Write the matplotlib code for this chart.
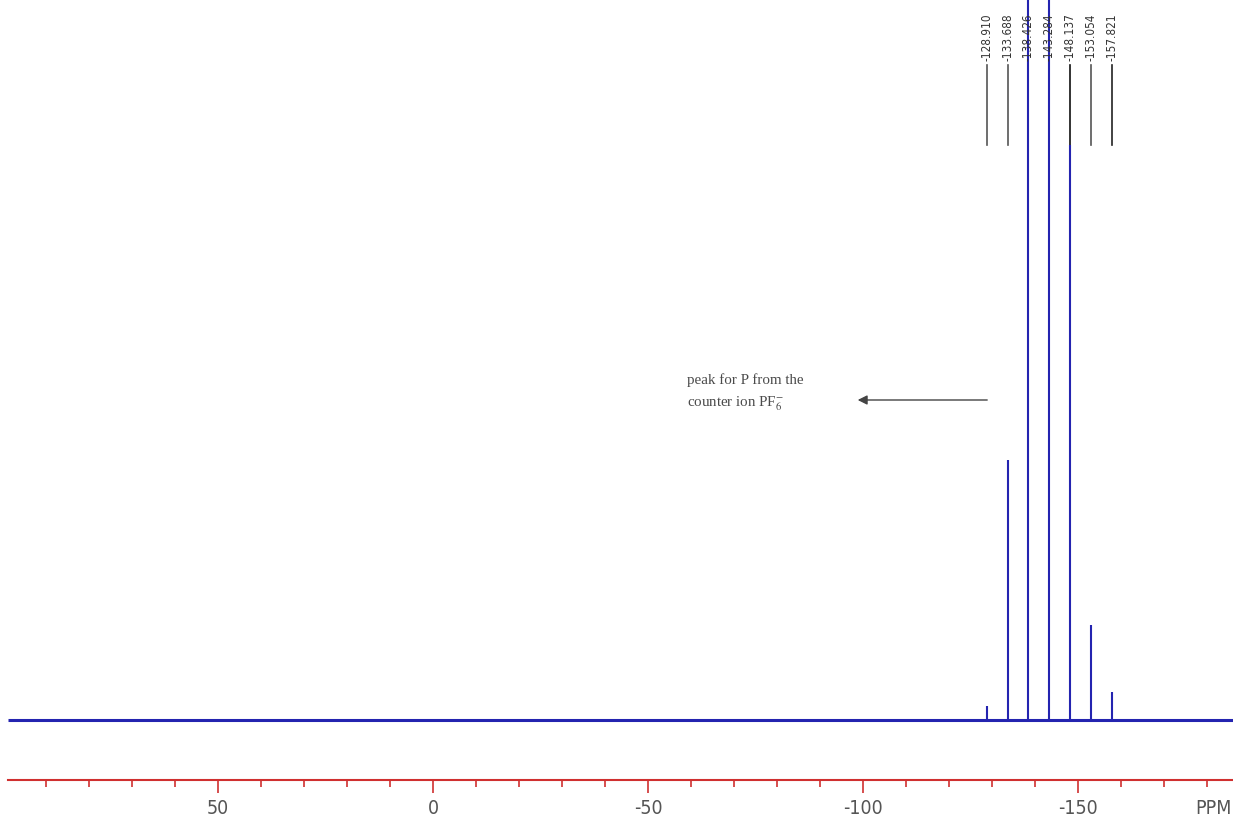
import matplotlib
matplotlib.use('Agg')
import matplotlib.pyplot as plt
import numpy as np

# 31P NMR スペクトル (PF6- の七重線)
peak_ppm = [-128.910, -133.688, -138.426, -143.284, -148.137, -153.054, -157.821]
peak_height = [14, 260, 1000, 1000, 575, 95, 28]
peak_labels = ['-128.910', '-133.688', '-138.426', '-143.284', '-148.137', '-153.054', '-157.821']
label_colors = ['#555555', '#555555', '#2a2a9a', '#2a2a9a', '#111111', '#555555', '#222222']

major_ticks = [50, 0, -50, -100, -150]
major_labels = ['50', '0', '-50', '-100', '-150']
minor_ticks = list(range(90, -190, -10))

plt.rcParams['mathtext.fontset'] = 'stix'
narrow = dict(family='DejaVu Sans', stretch='condensed')

fig = plt.figure(figsize=(12.33, 8.21), dpi=100)
ax = fig.add_axes([8 / 1233, 1 - 780 / 821, 1 - 8 / 1233, 780 / 821])

x_left, x_right = 98.8, -186.0
ax.set_xlim(x_left, x_right)
ax.set_ylim(-60, 720)

blue = '#2424b0'
# ベースライン
ax.plot([x_left, x_right], [0, 0], color=blue, lw=2.2, solid_capstyle='butt')
# ピーク
ax.vlines(peak_ppm, 0, peak_height, color=blue, lw=1.5)

# ピーク位置のラベル
for p, lab, c in zip(peak_ppm, peak_labels, label_colors):
    ax.plot([p, p], [575, 655], color=c, lw=1.2, zorder=1)
    ax.text(p, 659, lab, rotation=90, ha='center', va='bottom', fontsize=8.5,
            color='#333333', **narrow)

# 注釈
ax.annotate('', xy=(-98.1, 320), xytext=(-129.5, 320),
            arrowprops=dict(arrowstyle='-|>', color='#444444', lw=1.0,
                            mutation_scale=14))
ax.text(-59.1, 327, 'peak for P from the\ncounter ion PF$_6^{-}$', ha='left', va='center',
        fontsize=10.8, color='#4a4a4a', family=['Liberation Serif', 'DejaVu Serif'],
        linespacing=1.6)

# 軸
for s in ['top', 'right', 'left']:
    ax.spines[s].set_visible(False)
ax.spines['bottom'].set_color('#d03030')
ax.spines['bottom'].set_linewidth(1.5)
ax.set_yticks([])
ax.set_xticks(major_ticks)
ax.set_xticklabels(major_labels, fontsize=14, color='#555555', **narrow)
ax.set_xticks(minor_ticks, minor=True)
ax.tick_params(axis='x', which='major', direction='out', length=9, width=1.2,
               color='#d03030', pad=5)
ax.tick_params(axis='x', which='minor', direction='out', length=5, width=1.2,
               color='#d03030')
ax.annotate('PPM', xy=(-181.5, 0), xycoords=('data', 'axes fraction'),
            xytext=(0, -14), textcoords='offset points', ha='center', va='top',
            fontsize=14, color='#555555', **narrow)

fig.savefig('out.png', dpi=100)
